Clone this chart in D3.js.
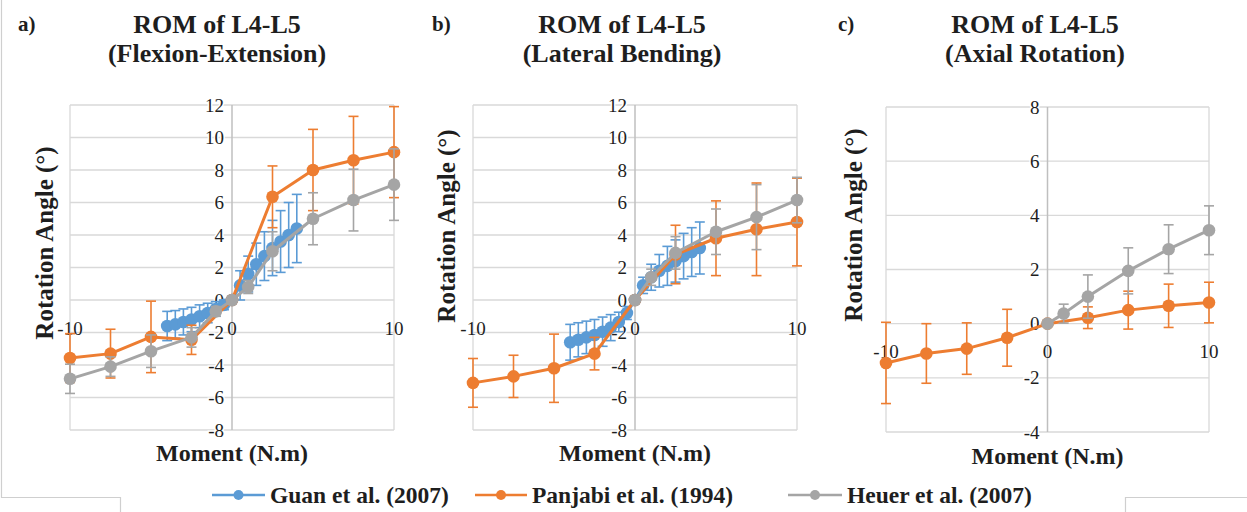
<!DOCTYPE html>
<html>
<head>
<meta charset="utf-8">
<script src="https://cdn.jsdelivr.net/npm/d3@7"></script>
<style>
  html, body { margin: 0; padding: 0; background: #ffffff; }
  svg { display: block; }
</style>
</head>
<body>
<svg id="chart" width="1247" height="512"></svg>
<script>
// ---------------- DATA ----------------
const seriesNames = ["Guan et al. (2007)", "Panjabi et al. (1994)", "Heuer et al. (2007)"];
const panelLetters = ["a)", "b)", "c)"];
const panelTitles1 = ["ROM of L4-L5", "ROM of L4-L5", "ROM of L4-L5"];
const panelTitles2 = ["(Flexion-Extension)", "(Lateral Bending)", "(Axial Rotation)"];
const xTitle = "Moment (N.m)";
const yTitle = "Rotation Angle (°)";
const xTickLabels = [-10, 0, 10];
const yTicksAB = [-8, -6, -4, -2, 0, 2, 4, 6, 8, 10, 12];
const yTicksC = [-4, -2, 0, 2, 4, 6, 8];

// moments (N.m)
const guanMoments = [-4, -3.5, -3, -2.5, -2, -1.5, -1, -0.5, 0, 0.5, 1, 1.5, 2, 2.5, 3, 3.5, 4];
const panjabiMoments = [-10, -7.5, -5, -2.5, 0, 2.5, 5, 7.5, 10];
const heuerMomentsFE = [-10, -7.5, -5, -2.5, -1, 0, 1, 2.5, 5, 7.5, 10];
const heuerMomentsPos = [0, 1, 2.5, 5, 7.5, 10];

// a) Flexion-Extension
const guanFE = [-1.6, -1.5, -1.35, -1.2, -1.0, -0.8, -0.55, -0.3, 0, 0.9, 1.6, 2.2, 2.7, 3.2, 3.6, 4.0, 4.4];
const guanFE_sd = [0.9, 0.85, 0.8, 0.75, 0.7, 0.6, 0.45, 0.3, 0, 0.9, 1.1, 1.3, 1.5, 1.7, 1.9, 2.0, 2.1];
const panjabiFE = [-3.57, -3.3, -2.27, -2.45, 0, 6.35, 8.0, 8.6, 9.1];
const panjabiFE_sd = [1.5, 1.5, 2.2, 0.9, 0, 1.9, 2.5, 2.7, 2.8];
const heuerFE = [-4.85, -4.1, -3.15, -2.3, -0.7, 0, 0.8, 3.0, 5.0, 6.15, 7.1];
const heuerFE_sd = [0.9, 0.6, 1.0, 0.6, 0.3, 0, 0.4, 1.2, 1.6, 1.9, 2.2];

// b) Lateral Bending
const guanLB = [-2.6, -2.45, -2.3, -2.15, -1.95, -1.7, -1.35, -0.8, 0, 0.9, 1.4, 1.8, 2.1, 2.4, 2.7, 2.95, 3.2];
const guanLB_sd = [1.1, 1.05, 1.0, 0.95, 0.9, 0.8, 0.6, 0.4, 0, 0.5, 0.8, 1.0, 1.2, 1.3, 1.4, 1.5, 1.6];
const panjabiLB = [-5.1, -4.7, -4.2, -3.3, 0, 2.8, 3.8, 4.35, 4.8];
const panjabiLB_sd = [1.5, 1.3, 2.1, 1.0, 0, 1.8, 2.3, 2.85, 2.7];
const heuerLB = [0, 1.4, 2.9, 4.2, 5.1, 6.15];
const heuerLB_sd = [0, 0.5, 1.0, 1.4, 2.0, 1.4];

// c) Axial Rotation
const panjabiAR = [-1.45, -1.1, -0.92, -0.52, 0, 0.22, 0.5, 0.66, 0.78];
const panjabiAR_sd = [1.5, 1.1, 0.95, 1.05, 0, 0.4, 0.7, 0.8, 0.75];
const heuerAR = [0, 0.37, 1.0, 1.95, 2.75, 3.45];
const heuerAR_sd = [0, 0.35, 0.8, 0.85, 0.9, 0.9];

const colors = ["#5B9BD5", "#ED7D31", "#A5A5A5"];

// ---------------- LAYOUT ----------------
const FONT = "'Liberation Serif', 'Times New Roman', serif";
const TEXT = "#1e1e1e";

function zipSeries(ms, vs, sds) {
  return ms.map((m, i) => ({ m: m, v: vs[i], sd: sds[i] }));
}

const panels = [
  {
    xr: [70, 394], yr: [430, 105], yd: [-8, 12], yTicks: yTicksAB,
    titleX: 217, letterX: 18, yTitleX: 44, yTitleY: 243, xTitleY: 461,
    series: [
      { c: 0, pts: zipSeries(guanMoments, guanFE, guanFE_sd) },
      { c: 1, pts: zipSeries(panjabiMoments, panjabiFE, panjabiFE_sd) },
      { c: 2, pts: zipSeries(heuerMomentsFE, heuerFE, heuerFE_sd) }
    ]
  },
  {
    xr: [473, 797], yr: [430, 105], yd: [-8, 12], yTicks: yTicksAB,
    titleX: 622, letterX: 432, yTitleX: 446, yTitleY: 226, xTitleY: 461,
    series: [
      { c: 0, pts: zipSeries(guanMoments, guanLB, guanLB_sd) },
      { c: 1, pts: zipSeries(panjabiMoments, panjabiLB, panjabiLB_sd) },
      { c: 2, pts: zipSeries(heuerMomentsPos, heuerLB, heuerLB_sd) }
    ]
  },
  {
    xr: [886, 1209], yr: [432, 107], yd: [-4, 8], yTicks: yTicksC,
    titleX: 1035, letterX: 838, yTitleX: 853, yTitleY: 225, xTitleY: 464,
    series: [
      { c: 1, pts: zipSeries(panjabiMoments, panjabiAR, panjabiAR_sd) },
      { c: 2, pts: zipSeries(heuerMomentsPos, heuerAR, heuerAR_sd) }
    ]
  }
];

const svg = d3.select("#chart");

// outer frame fragments
const frame = svg.append("g").attr("stroke", "#cfcfcf").attr("stroke-width", 1.2).attr("fill", "none");
frame.append("path").attr("d", "M1.5,0 V497.5 H120.5 V512");
frame.append("path").attr("d", "M1247,497.5 H1125.5 V512");

panels.forEach((p, pi) => {
  const x = d3.scaleLinear().domain([-10, 10]).range(p.xr);
  const y = d3.scaleLinear().domain(p.yd).range(p.yr);
  const g = svg.append("g");
  const x0 = x(0), y0 = y(0);

  // horizontal gridlines
  g.append("g").selectAll("line").data(p.yTicks).join("line")
    .attr("x1", p.xr[0]).attr("x2", p.xr[1])
    .attr("y1", d => y(d)).attr("y2", d => y(d))
    .attr("stroke", "#d9d9d9").attr("stroke-width", 1.3);
  // vertical gridlines at -10, 10
  g.append("g").selectAll("line").data([-10, 10]).join("line")
    .attr("x1", d => x(d)).attr("x2", d => x(d))
    .attr("y1", p.yr[1]).attr("y2", p.yr[0])
    .attr("stroke", "#d9d9d9").attr("stroke-width", 1.3);
  // y axis at 0
  g.append("line").attr("x1", x0).attr("x2", x0).attr("y1", p.yr[1]).attr("y2", p.yr[0])
    .attr("stroke", "#bfbfbf").attr("stroke-width", 1.5);

  // y tick labels
  g.append("g").selectAll("text").data(p.yTicks).join("text")
    .attr("x", x0 - 8).attr("y", d => y(d)).attr("dy", "0.35em")
    .attr("text-anchor", "end")
    .attr("font-family", FONT).attr("font-size", 19).attr("fill", TEXT)
    .attr("stroke", "#fff").attr("stroke-width", 3).attr("paint-order", "stroke")
    .text(d => d);

  // x tick labels
  g.append("g").selectAll("text").data(xTickLabels).join("text")
    .attr("x", d => x(d)).attr("y", y0 + 28).attr("dy", "0.35em")
    .attr("text-anchor", "middle")
    .attr("font-family", FONT).attr("font-size", 19).attr("fill", TEXT)
    .text(d => d);

  // series
  const line = d3.line().x(d => x(d.m)).y(d => y(d.v));
  p.series.forEach(s => {
    const col = colors[s.c];
    const sg = g.append("g");
    const eb = s.pts.filter(d => d.sd > 0);
    sg.append("g").selectAll("line").data(eb).join("line")
      .attr("x1", d => x(d.m)).attr("x2", d => x(d.m))
      .attr("y1", d => y(d.v - d.sd)).attr("y2", d => y(d.v + d.sd))
      .attr("stroke", col).attr("stroke-width", 1.6);
    sg.append("g").selectAll("line").data(eb.flatMap(d => [d.v - d.sd, d.v + d.sd].map(v => ({ m: d.m, v: v })))).join("line")
      .attr("x1", d => x(d.m) - 5).attr("x2", d => x(d.m) + 5)
      .attr("y1", d => y(d.v)).attr("y2", d => y(d.v))
      .attr("stroke", col).attr("stroke-width", 1.6);
    sg.append("path").datum(s.pts).attr("d", line)
      .attr("fill", "none").attr("stroke", col).attr("stroke-width", 3).attr("stroke-linejoin", "round");
    sg.append("g").selectAll("circle").data(s.pts).join("circle")
      .attr("cx", d => x(d.m)).attr("cy", d => y(d.v)).attr("r", 6.3)
      .attr("fill", col);
  });

  // titles
  svg.append("text").attr("x", p.letterX).attr("y", 31)
    .attr("font-family", FONT).attr("font-weight", "bold").attr("font-size", 21).attr("fill", TEXT)
    .text(panelLetters[pi]);
  svg.append("text").attr("x", p.titleX).attr("y", 33).attr("text-anchor", "middle")
    .attr("font-family", FONT).attr("font-weight", "bold").attr("font-size", 26).attr("fill", TEXT)
    .text(panelTitles1[pi]);
  svg.append("text").attr("x", p.titleX).attr("y", 62).attr("text-anchor", "middle")
    .attr("font-family", FONT).attr("font-weight", "bold").attr("font-size", 26).attr("fill", TEXT)
    .text(panelTitles2[pi]);

  // axis titles
  svg.append("text").attr("x", x0).attr("y", p.xTitleY).attr("text-anchor", "middle")
    .attr("font-family", FONT).attr("font-weight", "bold").attr("font-size", 24).attr("fill", TEXT)
    .text(xTitle);
  svg.append("text")
    .attr("transform", `translate(${p.yTitleX},${p.yTitleY}) rotate(-90)`)
    .attr("text-anchor", "middle").attr("dy", "0.35em")
    .attr("font-family", FONT).attr("font-weight", "bold").attr("font-size", 25).attr("fill", TEXT)
    .text(yTitle);
});

// legend
const legendItems = [
  { x1: 212, x2: 265, tx: 270 },
  { x1: 475, x2: 527, tx: 532 },
  { x1: 788, x2: 842, tx: 847 }
];
const lg = svg.append("g");
legendItems.forEach((it, i) => {
  lg.append("line").attr("x1", it.x1).attr("x2", it.x2).attr("y1", 495).attr("y2", 495)
    .attr("stroke", colors[i]).attr("stroke-width", 2.5);
  lg.append("circle").attr("cx", (it.x1 + it.x2) / 2).attr("cy", 495).attr("r", 5).attr("fill", colors[i]);
  lg.append("text").attr("x", it.tx).attr("y", 495).attr("dy", "0.35em")
    .attr("font-family", FONT).attr("font-weight", "bold").attr("font-size", 23.5).attr("fill", TEXT)
    .text(seriesNames[i]);
});
</script>
</body>
</html>
